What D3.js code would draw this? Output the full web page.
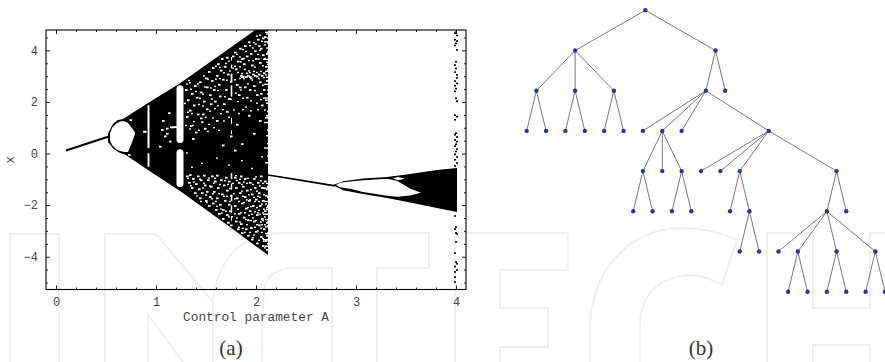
<!DOCTYPE html>
<html lang="en">
<head>
<meta charset="UTF-8">
<title>Bifurcation diagram and tree</title>
<script src="https://cdn.jsdelivr.net/npm/d3@7/dist/d3.min.js"></script>
<style>
  html, body { margin: 0; padding: 0; background: #fff; }
  svg { display: block; }
  .tick text { font-family: "Liberation Mono", monospace; font-size: 12px; fill: #444; }
</style>
</head>
<body>
<script>
// (a) bifurcation diagram
const xMajor = [0, 1, 2, 3, 4];
const xMinor = [0.2, 0.4, 0.6, 0.8, 1.2, 1.4, 1.6, 1.8, 2.2, 2.4, 2.6, 2.8, 3.2, 3.4, 3.6, 3.8];
const yMajor = [-4, -2, 0, 2, 4];
const yMinor = [-5, -4.5, -3.5, -3, -2.5, -1.5, -1, -0.5, 0.5, 1, 1.5, 2.5, 3, 3.5, 4.5];

const branchA = [0.1, 0.52];
const branchX = [0.12, 0.65];

const chaosA = [0.52, 0.57, 0.62, 0.67, 0.69, 0.92, 1.24, 1.74, 2.0, 2.12];
const chaosTop = [0.79, 1.16, 1.30, 1.34, 1.39, 1.96, 2.73, 4.09, 4.81, 5.13];
const chaosBottom = [0.45, 0.21, 0.06, -0.02, -0.04, -0.64, -1.45, -2.85, -3.59, -3.93];

const bubbleA = [0.54, 0.56, 0.60, 0.64, 0.68, 0.72, 0.75, 0.79];
const bubbleTop = [0.79, 0.99, 1.16, 1.24, 1.26, 1.18, 1.03, 0.83];
const bubbleBottom = [0.52, 0.33, 0.17, 0.10, 0.06, 0.06, 0.33, 0.76];

const tailA = [2.12, 2.44, 2.79];
const tailX = [-0.83, -1.03, -1.25];

const wedgeA = [2.77, 2.87, 3.07, 3.31, 3.54, 3.81, 4.01];
const wedgeTop = [-1.22, -1.07, -0.97, -0.91, -0.79, -0.64, -0.56];
const wedgeBottom = [-1.22, -1.42, -1.57, -1.72, -1.90, -2.11, -2.27];

const gapA = [2.80, 2.84, 2.94, 3.07, 3.31, 3.41, 3.54, 3.65];
const gapTop = [-1.22, -1.13, -1.08, -1.03, -0.98, -1.05, -1.35, -1.52];
const gapBottom = [-1.22, -1.31, -1.36, -1.49, -1.64, -1.67, -1.63, -1.52];

const smallGapA = [3.37, 3.42, 3.49];
const smallGapTop = [-0.96, -0.91, -0.98];
const smallGapBottom = [-0.96, -1.03, -0.98];

// periodic windows inside the chaotic band
const windowA = [0.925, 0.925, 1.24, 1.24, 1.755, 1.755, 1.755, 1.755, 1.755, 1.755, 1.755, 1.755, 1.755, 1.755, 1.755];
const windowTop = [1.88, 0.02, 2.65, 0.17, 3.75, 3.45, 3.1, 2.65, 1.4, 0.9, -0.75, -1.15, -1.6, -2.0, -2.45];
const windowBottom = [0.21, -0.52, 0.41, -1.30, 3.6, 3.3, 2.75, 2.2, 1.15, 0.75, -1.0, -1.4, -1.85, -2.3, -2.6];
const windowSpan = [0.02, 0.02, 0.07, 0.07, 0.01, 0.012, 0.018, 0.016, 0.01, 0.01, 0.016, 0.014, 0.016, 0.014, 0.01];

// white specks in the band, [A, x]
const specksUpper = [
  [0.735,1.33],[0.72,-0.02],[0.87,0.88],[0.88,0.88],
  [1.06,1.3],[1.1,1.0],[1.1,0.8],[1.16,1.05],[1.14,1.05],[1.18,1.06],[1.2,1.05],[1.08,0.7],[1.13,0.5],[1.03,0.3],[1.12,1.6],[1.05,0.95],
  [1.29,2.5],[1.31,2.1],[1.33,1.7],[1.3,1.45],[1.35,2.35],[1.37,1.9],[1.34,1.1],[1.38,2.65],[1.4,2.2],[1.41,1.55],[1.39,0.85],[1.36,0.6],
  [1.43,2.8],[1.44,1.4],[1.45,1.25],[1.46,1.55],[1.44,2.4],[1.47,2.05],[1.49,2.95],[1.5,2.6],[1.5,1.75],[1.52,3.2],[1.53,2.3],[1.54,1.95],[1.48,1.0],
  [1.55,2.85],[1.56,3.35],[1.57,2.5],[1.58,2.05],[1.6,3.05],[1.61,3.5],[1.62,2.7],[1.63,2.25],[1.64,3.25],[1.65,3.7],[1.66,2.9],[1.67,1.95],[1.68,3.4],[1.69,2.5],[1.7,3.75],[1.71,3.1],[1.72,2.15],
  [1.6,1.3],[1.7,1.65],[1.74,0.7],[1.66,0.35],[1.8,1.15],[1.85,0.4],[1.92,1.5],[1.97,0.8],[2.03,1.3],[1.78,0.15],
  [1.78,3.95],[1.79,3.3],[1.8,2.7],[1.81,3.6],[1.82,2.3],[1.83,4.1],[1.84,3.05],[1.85,3.0],[1.86,3.02],[1.87,3.5],[1.88,2.6],[1.88,4.2],[1.89,3.0],[1.9,3.8],[1.9,2.2],
  [1.91,3.05],[1.92,4.35],[1.93,3.0],[1.94,2.95],[1.95,3.45],[1.96,3.1],[1.97,2.65],[1.98,4.0],[1.98,3.05],[1.99,3.7],[2.0,2.3],[2.0,3.02],[2.01,4.45],[2.02,3.1],[2.03,2.8],[2.03,3.55],
  [2.04,4.1],[2.05,3.05],[2.05,1.9],[2.06,3.85],[2.07,2.5],[2.07,3.15],[2.08,4.55],[2.09,3.4],[2.09,2.1],[2.1,3.9],[2.1,1.5],[2.1,2.85],[2.06,4.5],[2.02,4.2],[1.94,3.9],[1.85,3.7],[1.76,3.8],[1.83,2.6],[1.93,2.5],[2.04,2.35]
];
const specksLower = [
  [1.3,-0.85],[1.32,-1.1],[1.33,-0.8],[1.35,-1.3],[1.36,-0.95],[1.38,-1.5],[1.39,-1.15],[1.41,-0.85],[1.42,-1.35],[1.43,-1.7],[1.44,-1.0],[1.45,-1.5],
  [1.47,-0.82],[1.48,-1.2],[1.49,-1.8],[1.5,-1.45],[1.51,-1.0],[1.52,-2.0],[1.53,-1.65],[1.54,-1.25],[1.55,-0.85],[1.56,-1.9],[1.57,-1.45],[1.58,-1.05],[1.59,-2.15],[1.6,-1.7],[1.6,-0.82],
  [1.61,-1.3],[1.62,-2.3],[1.63,-1.95],[1.64,-1.0],[1.65,-1.55],[1.66,-2.5],[1.66,-2.15],[1.67,-1.2],[1.68,-1.8],[1.69,-0.9],[1.7,-2.35],[1.7,-1.4],[1.71,-2.65],[1.72,-1.95],[1.72,-1.05],[1.73,-2.2],[1.74,-1.6],[1.74,-2.75],
  [1.78,-0.9],[1.78,-2.0],[1.79,-1.3],[1.79,-2.6],[1.8,-1.7],[1.81,-2.9],[1.82,-1.1],[1.82,-2.3],[1.83,-1.5],[1.84,-0.85],[1.84,-2.7],[1.85,-1.9],[1.85,-3.05],[1.86,-1.25],[1.87,-2.45],[1.88,-1.65],[1.88,-0.95],[1.89,-2.9],[1.89,-2.1],[1.9,-1.4],[1.91,-3.15],[1.91,-2.55],[1.92,-1.8],[1.93,-1.1],[1.93,-2.2],[1.94,-2.85],[1.95,-1.55],[1.95,-3.3],
  [1.96,-2.0],[1.97,-0.95],[1.97,-2.6],[1.98,-1.3],[1.99,-3.0],[1.99,-1.75],[2.0,-2.35],[2.0,-3.45],[2.01,-1.1],[2.02,-2.75],[2.02,-1.5],[2.03,-2.0],[2.04,-3.2],[2.04,-0.85],[2.05,-2.5],[2.05,-1.3],[2.06,-3.55],[2.06,-1.8],[2.07,-2.9],[2.08,-2.2],[2.08,-1.05],[2.09,-3.35],[2.09,-1.6],[2.1,-2.65],[2.1,-3.7],[2.11,-2.0],[2.11,-1.25],[2.11,-3.05]
];
// the smaller specks
const specksFine = [
  [1.33,2.77],[1.42,1.93],[1.47,3.04],[1.37,1.27],[1.58,2.63],[1.52,1.16],[1.61,1.88],[1.69,3.52],[1.74,2.81],[1.63,3.37],[1.55,2.14],[1.78,3.41],[1.83,3.77],[1.86,2.17],[1.91,2.73],[1.96,3.63],[2.01,3.87],[2.06,2.68],[2.11,4.32],[1.99,4.27],
  [1.88,3.29],[1.81,2.04],[1.73,3.23],[1.68,2.23],[1.64,1.57],[1.59,3.41],[1.56,1.41],[1.51,2.91],[1.46,2.33],[1.41,2.73],[1.35,1.58],[1.32,2.86],[1.92,3.23],[1.97,4.33],[2.03,4.62],[2.08,3.71],
  [1.85,3.13],[1.87,2.93],[1.9,3.14],[1.93,3.16],[1.95,2.88],[1.97,3.21],[2.0,3.17],[2.02,2.93],[2.04,3.21],[2.07,2.97],[2.09,3.08],[2.11,3.27],[1.83,2.94],
  [1.79,2.37],[1.84,2.49],[1.89,1.83],[1.94,2.07],[1.98,2.47],[2.01,1.73],[2.04,2.12],[2.08,1.71],[2.11,2.33],[1.77,1.72],[1.82,1.58],[1.86,1.73],[1.94,1.68],[2.0,1.98],[1.72,1.43],[1.67,1.29],[1.62,0.93],[1.57,1.03],[1.51,0.88],
  [2.05,4.38],[2.08,4.24],[2.1,4.66],[2.03,4.03],[2.0,4.58],[1.96,4.12],[1.93,4.21],[1.89,3.98],[1.86,4.06],[1.84,3.58],[1.8,3.87],[1.76,3.34],[1.72,3.61],[1.67,3.16],[1.63,2.93],[1.59,2.91],[1.54,2.57],[1.48,2.61],[1.43,2.17],[1.39,2.43],[1.34,2.52],[1.3,2.72],
  [1.28,1.97],[1.29,1.12],[1.31,1.63],[1.33,0.98],[1.36,1.12],[1.42,0.93],[1.46,1.87],[1.49,1.43],[1.53,1.67],[1.58,1.77],[1.61,2.47],[1.66,1.73],[1.7,2.87],[1.74,2.13],[1.78,2.89],[1.81,3.17],[1.83,3.39],[1.87,3.71],[1.92,3.63],[1.98,3.38],[2.02,3.69],[2.06,3.43],[2.1,3.57],
  [1.45,-0.35],[1.6,-0.15],[1.72,-0.42],[1.85,-0.25],[1.95,-0.55],[2.05,-0.1],[1.35,-0.5],[1.3,0.05],
  [1.31,-0.93],[1.34,-1.22],[1.37,-1.08],[1.4,-1.62],[1.43,-0.97],[1.46,-1.31],[1.49,-1.58],[1.52,-0.92],[1.55,-1.73],[1.57,-1.12],[1.59,-1.83],[1.62,-1.53],[1.64,-2.12],[1.67,-1.63],[1.69,-2.21],[1.71,-1.17],[1.73,-1.83],[1.72,-2.43],[1.78,-2.31],[1.8,-1.02],
  [1.81,-2.13],[1.83,-2.63],[1.85,-1.43],[1.86,-2.87],[1.87,-1.08],[1.88,-2.27],[1.9,-1.77],[1.9,-2.73],[1.91,-0.93],[1.92,-2.37],[1.93,-3.03],[1.94,-1.37],[1.94,-2.03],[1.96,-2.47],[1.96,-1.17],[1.97,-3.13],[1.98,-1.83],[1.98,-2.83],[1.99,-0.88],[2.0,-2.07],
  [2.01,-2.97],[2.01,-1.63],[2.02,-3.33],[2.03,-2.33],[2.03,-1.23],[2.04,-2.63],[2.05,-1.93],[2.05,-3.03],[2.06,-2.27],[2.06,-1.13],[2.07,-3.37],[2.07,-1.57],[2.08,-2.73],[2.09,-1.93],[2.09,-3.07],[2.1,-1.37],[2.1,-2.33],[2.11,-3.47],[2.11,-2.77],[2.08,-3.63],
  [1.44,-1.83],[1.47,-1.13],[1.5,-1.87],[1.53,-1.23],[1.56,-1.53],[1.58,-0.93],[1.6,-2.02],[1.63,-1.17],[1.65,-2.28],[1.68,-1.03],[1.7,-1.63],[1.73,-1.33],[1.75,-2.42],[1.77,-1.53],[1.79,-0.83],[1.82,-1.83],[1.84,-2.27],[1.86,-1.63],[1.88,-3.03],[1.9,-1.13],
  [1.92,-1.57],[1.94,-2.57],[1.96,-3.23],[1.98,-2.23],[2.0,-1.43],[2.0,-2.73],[2.02,-1.83],[2.02,-2.17],[2.04,-1.03],[2.04,-2.87],[2.06,-2.57],[2.06,-3.27],[2.08,-1.33],[2.08,-2.43],[2.1,-2.07],[2.1,-3.17],[2.11,-1.67],[2.11,-2.53],
  [1.83,-0.97],[1.85,-1.17],[1.87,-1.87],[1.89,-2.53],[1.91,-2.07],[1.93,-1.77],[1.95,-2.33],[1.97,-1.67],[1.99,-2.57],[2.01,-2.27],[2.03,-1.67],[2.05,-2.73],[2.07,-2.13],[2.09,-2.53],[1.76,-1.13],[1.78,-1.73],[1.8,-2.47],[1.82,-2.83]
];

// notches along the right edge of the band, [x, A where the notch starts]
const edgeNotches = [
  [4.73,2.09],[4.51,2.11],[4.36,2.08],[4.12,2.1],[3.97,2.11],[3.68,2.07],[3.49,2.11],[3.22,2.09],[2.98,2.1],[2.71,2.08],[2.49,2.11],[2.18,2.07],[1.98,2.1],[1.66,2.11],[1.41,2.09],[1.23,2.08],[0.93,2.11],[0.72,2.1],[0.41,2.11],[0.24,2.08],[-0.07,2.11],[-0.33,2.09],
  [-1.13,2.1],[-1.31,2.07],[-1.64,2.11],[-1.83,2.08],[-2.14,2.1],[-2.33,2.07],[-2.62,2.11],[-2.81,2.09],[-3.13,2.1],[-3.31,2.07],[-3.57,2.09]
];

// scattered points at A = 4, [A, x]
const edgePoints = [
  [4.0,4.71],[3.99,4.66],[4.01,4.58],[3.99,4.41],[4.01,4.36],[4.0,4.27],[3.99,4.19],[4.01,4.02],[4.0,3.56],[3.99,3.43],[4.0,3.3],[3.99,3.16],[4.01,3.05],
  [4.01,2.93],[3.99,2.81],[4.01,2.72],[3.99,2.63],[4.0,2.52],[3.99,2.41],[4.0,2.14],[4.01,2.03],[3.99,1.49],[4.01,1.43],[3.99,1.31],
  [4.0,0.79],[3.99,0.73],[4.01,0.64],[3.99,0.53],[4.01,0.46],[4.0,0.36],[3.99,0.29],[4.01,0.17],[4.0,0.08],[3.99,-0.03],[4.01,-0.13],[3.99,-0.24],[4.01,-0.37],[3.99,-0.48],
  [3.99,-2.42],[4.0,-2.85],[3.99,-2.93],[4.0,-3.08],[4.01,-3.12],[4.0,-3.43],[3.99,-3.86],[4.0,-4.21],[4.01,-4.27],[3.99,-4.38],[4.01,-4.52],[3.99,-4.59],[3.99,-4.79],[3.99,-4.98]
];

// (b) tree: node id, parent id, horizontal slot
const treeIds = ["r","a","b","a1","a2","a3","a1l","a1r","a2l","a2r","a3l","a3r","b1","b2","c1","c2","c3","c4","d1","d2","d3","d1l","d1r","d3l","d3r","e1","e2","e3","e4","f1","f2","g1","g2","h1","h2","i1","i2","i3","i4","i2l","i2r","i3l","i3r","i4l","i4r"];
const treeParents = ["","r","r","a","a","a","a1","a1","a2","a2","a3","a3","b","b","b1","b1","b1","b1","c2","c2","c2","d1","d1","d3","d3","c4","c4","c4","c4","e3","e3","f2","f2","e4","e4","h1","h1","h1","h1","i2","i2","i3","i3","i4","i4"];
const treeSlots = [6.125,2.5,9.75,0.5,2.5,4.5,0,1,2,3,4,5,9.25,10.25,6,7,8,12.5,6,7,8,5.5,6.5,7.5,8.5,9,10,11,16,10.5,11.5,11,12,15.5,16.5,13,14,16,18,13.5,14.5,15.5,16.5,17.5,18.5];

const width = 885;
const height = 362;

const svg = d3.select('body').append('svg')
  .attr('width', width)
  .attr('height', height);

svg.append('rect').attr('width', width).attr('height', height).attr('fill', '#fff');

// faint publisher watermark behind everything
const watermark = [
  'M10,362 V234 H59 V362',
  'M105,362 V234 H156 L213,302 M148,362 V315 L183,362',
  'M213,362 V300 C218,260 240,234 280,233 H429 V268 H377 V362 M332,362 V268 H296 C280,268 270,272 265,285 C262,300 262,330 262,362',
  'M455,362 V233 H568 V270 H500 V308 H548 V347 H500 V362',
  'M737,240 C720,232 700,228 680,228 C625,230 590,275 590,330 V362 M722,285 C710,278 700,275 690,275 C660,276 640,295 640,325 V362 M737,240 L722,285',
  'M767,362 V233 H813 V308 H870 V233 H885 M813,362 V345 H870 V362'
];
svg.append('g')
  .selectAll('path')
  .data(watermark)
  .enter()
  .append('path')
  .attr('d', d => d)
  .attr('fill', 'none')
  .attr('stroke', '#efefef')
  .attr('stroke-width', 2);

const frame = { left: 46, right: 466, top: 30, bottom: 289.5 };

const xScale = d3.scaleLinear().domain([-0.1, 4.1]).range([frame.left, frame.right]);
const yScale = d3.scaleLinear().domain([4.79, -5.27]).range([frame.top, frame.bottom]);

const defs = svg.append('defs');
defs.append('clipPath').attr('id', 'plot')
  .append('rect')
  .attr('x', frame.left).attr('y', frame.top)
  .attr('width', frame.right - frame.left).attr('height', frame.bottom - frame.top);
defs.append('filter').attr('id', 'soft')
  .append('feGaussianBlur').attr('stdDeviation', 0.2);

const plot = svg.append('g').attr('clip-path', 'url(#plot)').append('g').attr('filter', 'url(#soft)');

function band(as, tops, bottoms, colour) {
  const area = d3.area()
    .x(i => xScale(as[i]))
    .y0(i => yScale(bottoms[i]))
    .y1(i => yScale(tops[i]));
  plot.append('path').attr('d', area(d3.range(as.length))).attr('fill', colour);
}

function stroke(as, xs, w) {
  const line = d3.line().x(i => xScale(as[i])).y(i => yScale(xs[i]));
  plot.append('path').attr('d', line(d3.range(as.length)))
    .attr('fill', 'none').attr('stroke', '#000').attr('stroke-width', w);
}

stroke(branchA, branchX, 2);
band(chaosA, chaosTop, chaosBottom, '#000');
band(bubbleA, bubbleTop, bubbleBottom, '#fff');
stroke(tailA, tailX, 1.7);
band(wedgeA, wedgeTop, wedgeBottom, '#000');
band(gapA, gapTop, gapBottom, '#fff');
band(smallGapA, smallGapTop, smallGapBottom, '#fff');

plot.selectAll('rect.window')
  .data(windowA)
  .enter()
  .append('rect')
  .attr('class', 'window')
  .attr('x', (d, i) => xScale(d - windowSpan[i] / 2))
  .attr('y', (d, i) => yScale(windowTop[i]))
  .attr('width', (d, i) => xScale(windowSpan[i]) - xScale(0))
  .attr('height', (d, i) => yScale(windowBottom[i]) - yScale(windowTop[i]))
  .attr('rx', (d, i) => (xScale(windowSpan[i]) - xScale(0)) / 2)
  .attr('fill', '#fff');

plot.selectAll('rect.speck')
  .data(specksUpper.concat(specksLower))
  .enter()
  .append('rect')
  .attr('class', 'speck')
  .attr('x', d => xScale(d[0]))
  .attr('y', d => yScale(d[1]))
  .attr('width', 2.6)
  .attr('height', 1.8)
  .attr('fill', '#fff');

plot.selectAll('rect.fine')
  .data(specksFine)
  .enter()
  .append('rect')
  .attr('class', 'fine')
  .attr('x', d => xScale(d[0]))
  .attr('y', d => yScale(d[1]))
  .attr('width', 1.9)
  .attr('height', 1.4)
  .attr('fill', '#fff');

plot.selectAll('rect.notch')
  .data(edgeNotches)
  .enter()
  .append('rect')
  .attr('class', 'notch')
  .attr('x', d => xScale(d[1]))
  .attr('y', d => yScale(d[0]))
  .attr('width', d => xScale(2.13) - xScale(d[1]))
  .attr('height', 1.4)
  .attr('fill', '#fff');

plot.selectAll('rect.point')
  .data(edgePoints)
  .enter()
  .append('rect')
  .attr('class', 'point')
  .attr('x', d => xScale(d[0]) - 1)
  .attr('y', d => yScale(d[1]) - 0.8)
  .attr('width', 2)
  .attr('height', 1.6)
  .attr('fill', '#000');

// frame and ticks, labels only on left and bottom
function ticks(axis, pos, values, size, labelled, pad) {
  const g = svg.append('g')
    .attr('transform', pos)
    .call(axis.tickValues(values).tickSize(size).tickPadding(pad)
      .tickFormat(labelled ? (d => String(d).replace('-', '\u2212')) : ''));
  g.select('.domain').remove();
  g.selectAll('line').attr('stroke', '#000').attr('stroke-width', 0.9);
}

const bottomAt = `translate(0,${frame.bottom})`;
const topAt = `translate(0,${frame.top})`;
const leftAt = `translate(${frame.left},0)`;
const rightAt = `translate(${frame.right},0)`;

ticks(d3.axisBottom(xScale), bottomAt, xMajor, -4, true, 8);
ticks(d3.axisBottom(xScale), bottomAt, xMinor, -2, false, 8);
ticks(d3.axisTop(xScale), topAt, xMajor, -4, false, 8);
ticks(d3.axisTop(xScale), topAt, xMinor, -2, false, 8);
ticks(d3.axisLeft(yScale), leftAt, yMajor, -4, true, 8);
ticks(d3.axisLeft(yScale), leftAt, yMinor, -2, false, 8);
ticks(d3.axisRight(yScale), rightAt, yMajor, -4, false, 8);
ticks(d3.axisRight(yScale), rightAt, yMinor, -2, false, 8);

svg.append('rect')
  .attr('x', frame.left).attr('y', frame.top)
  .attr('width', frame.right - frame.left).attr('height', frame.bottom - frame.top)
  .attr('fill', 'none').attr('stroke', '#000').attr('stroke-width', 1.1);

svg.append('text')
  .attr('x', 256).attr('y', 321)
  .attr('text-anchor', 'middle')
  .attr('font-family', '"Liberation Mono", monospace')
  .attr('font-size', 12.8)
  .attr('fill', '#444')
  .text('Control parameter A');

svg.append('text')
  .attr('transform', 'translate(14,160) rotate(-90)')
  .attr('text-anchor', 'middle')
  .attr('font-family', '"Liberation Mono", monospace')
  .attr('font-size', 12.8)
  .attr('fill', '#444')
  .text('x');

// (b) tree
const nodes = treeIds.map((id, i) => ({ id, parent: treeParents[i], slot: treeSlots[i] }));
const root = d3.stratify().id(d => d.id).parentId(d => d.parent)(nodes);

const slotScale = d3.scaleLinear().domain([0, 18.5]).range([526.7, 885]);
const depthScale = d3.scaleLinear().domain([0, 7]).range([10.3, 291.7]);

svg.append('g').selectAll('line')
  .data(root.links())
  .enter()
  .append('line')
  .attr('x1', d => slotScale(d.source.data.slot))
  .attr('y1', d => depthScale(d.source.depth))
  .attr('x2', d => slotScale(d.target.data.slot))
  .attr('y2', d => depthScale(d.target.depth))
  .attr('stroke', '#8a7272')
  .attr('stroke-width', 1);

svg.append('g').selectAll('circle')
  .data(root.descendants())
  .enter()
  .append('circle')
  .attr('cx', d => slotScale(d.data.slot))
  .attr('cy', d => depthScale(d.depth))
  .attr('r', 2.2)
  .attr('fill', '#27349a');

// panel captions
svg.selectAll('text.caption')
  .data([['(a)', 231], ['(b)', 701]])
  .enter()
  .append('text')
  .attr('class', 'caption')
  .attr('x', d => d[1])
  .attr('y', 355)
  .attr('text-anchor', 'middle')
  .attr('font-family', '"Liberation Serif", serif')
  .attr('font-size', 21)
  .attr('fill', '#333')
  .text(d => d[0]);
</script>
</body>
</html>
